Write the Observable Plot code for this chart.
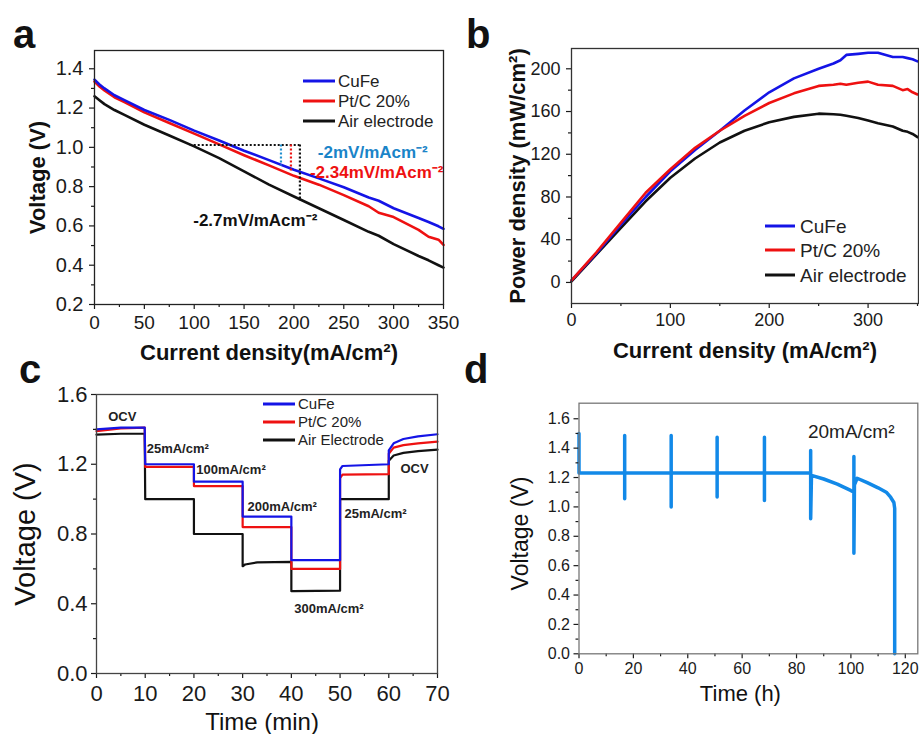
<!DOCTYPE html>
<html><head><meta charset="utf-8">
<script src="https://cdn.jsdelivr.net/npm/d3@7"></script>
<script src="https://cdn.jsdelivr.net/npm/@observablehq/plot@0.6"></script>
<style>
body{margin:0;background:#fff;}
#page{position:relative;width:919px;height:734px;overflow:hidden;background:#fff;font-family:"Liberation Sans",Arial,sans-serif;}
.panel{position:absolute;}
#overlay{position:absolute;left:0;top:0;pointer-events:none;}
</style></head><body><div id="page"></div>
<script>
// ---------- DATA ----------
const seriesNames = ["CuFe", "Pt/C 20%", "Air electrode"];
const seriesNamesC = ["CuFe", "Pt/C 20%", "Air Electrode"];
const seriesColors = ["#1414e6", "#ee1111", "#111111"];

// Panel a: polarization curves
const aCurrent = [0,5,10,20,30,50,75,100,125,150,175,200,225,250,275,285,300,325,335,345,350];
const aCuFe  = [1.345,1.32,1.30,1.265,1.24,1.19,1.14,1.085,1.035,0.983,0.935,0.886,0.842,0.797,0.745,0.728,0.69,0.64,0.62,0.598,0.585];
const aPtC   = [1.335,1.31,1.29,1.255,1.23,1.178,1.124,1.07,1.015,0.96,0.908,0.855,0.81,0.757,0.70,0.667,0.645,0.58,0.545,0.53,0.503];
const aAir   = [1.26,1.24,1.22,1.19,1.165,1.115,1.06,1.005,0.945,0.878,0.81,0.75,0.69,0.63,0.57,0.55,0.507,0.447,0.425,0.40,0.388];
// slope annotation
const slopeH = [{x1: 96, x2: 206, v: 1.012}];
const slopeV = [
  {x: 206, v1: 1.012, v2: 0.725, c: "#111111"},
  {x: 187, v1: 1.012, v2: 0.905, c: "#1f8fd0"},
  {x: 197, v1: 1.012, v2: 0.875, c: "#ee1111"}
];
const slopeLabels = [
  {x: 224, v: 0.974, t: "-2mV/mAcm⁻²", c: "#1a84c8"},
  {x: 216, v: 0.872, t: "-2.34mV/mAcm⁻²", c: "#ee1111"},
  {x: 99,  v: 0.627, t: "-2.7mV/mAcm⁻²", c: "#111111"}
];

// Panel b: power density
const bCurrent = [0,25,50,75,100,125,150,175,200,225,250,265,272,278,290,300,310,325,335,340,345,350];
const bCuFe = [2,27,54,80,104,124,142,161,178,191,200,205,208,213,214,215,215,211,211,210,209,207];
const bPtC  = [2,28,56,84,106,126,142,156,168,177,184,185,186,185,187,188,185,184,180,181,178,176];
const bAir  = [1,26,51,76,98,116,131,142,150,155,158,157.5,157,156,154,151.5,149,146,142,141,139,136];

// Panel c: step test
const cTime = [0,5,9.9,10,10.5,20,20,20.5,30,30,30.5,33,40,40,40.5,50,50,50.5,60,60,61,63,66,70];
const cCuFe = [1.40,1.41,1.41,1.20,1.20,1.20,1.10,1.10,1.10,0.90,0.90,0.90,0.90,0.65,0.65,0.65,1.17,1.19,1.20,1.28,1.32,1.345,1.36,1.372];
const cPtC  = [1.39,1.405,1.41,1.185,1.185,1.185,1.075,1.075,1.075,0.84,0.84,0.84,0.84,0.60,0.60,0.60,1.12,1.14,1.143,1.26,1.295,1.31,1.32,1.33];
const cAir  = [1.37,1.375,1.375,1.0,1.0,1.0,0.80,0.80,0.80,0.615,0.625,0.637,0.64,0.472,0.472,0.475,1.0,1.0,1.0,1.22,1.25,1.265,1.275,1.284];
const cLabels = [
  {t: 2.4, v: 1.47, s: "OCV"},
  {t: 10.3, v: 1.29, s: "25mA/cm²"},
  {t: 20.5, v: 1.166, s: "100mA/cm²"},
  {t: 31.0, v: 0.954, s: "200mA/cm²"},
  {t: 40.6, v: 0.369, s: "300mA/cm²"},
  {t: 50.9, v: 0.914, s: "25mA/cm²"},
  {t: 62.4, v: 1.175, s: "OCV"}
];

// Panel d: durability
const dTime = [0,0,0.3,16.8,16.8,16.8,16.8,33.9,33.9,33.9,33.9,50.8,50.8,50.8,50.8,68.2,68.2,68.2,68.2,85.2,85.2,85.2,85.5,90,95,99.9,101.1,101.1,101.1,101.3,102.3,106,110,113,114.6,115.8,116.1,116.1];
const dVolt = [1.50,1.23,1.23,1.23,1.486,1.055,1.23,1.23,1.486,0.999,1.23,1.23,1.475,1.067,1.23,1.23,1.475,1.044,1.23,1.23,1.384,0.919,1.215,1.19,1.155,1.112,1.10,1.343,0.685,1.15,1.195,1.165,1.13,1.10,1.066,1.03,0.99,0.0];
const dLabel = [{t: 84.2, v: 1.508, s: "20mA/cm²"}];

// tick values
const aXTicks = [0,50,100,150,200,250,300,350], aXMinor = [25,75,125,175,225,275,325];
const aYTicks = [0.2,0.4,0.6,0.8,1.0,1.2,1.4], aYMinor = [0.3,0.5,0.7,0.9,1.1,1.3];
const bXTicks = [0,100,200,300], bXMinor = [50,150,250,350];
const bYTicks = [0,40,80,120,160,200], bYMinor = [20,60,100,140,180];
const cXTicks = [0,10,20,30,40,50,60,70], cXMinor = [5,15,25,35,45,55,65];
const cYTicks = [0,0.4,0.8,1.2,1.6], cYMinor = [0.2,0.6,1.0,1.4];
const dXTicks = [0,20,40,60,80,100,120], dXMinor = [10,30,50,70,90,110];
const dYTicks = [0,0.2,0.4,0.6,0.8,1.0,1.2,1.4,1.6], dYMinor = [0.1,0.3,0.5,0.7,0.9,1.1,1.3,1.5];

// ---------- HELPERS ----------
const FONT = '"Liberation Sans", Arial, Helvetica, sans-serif';
const f1 = d3.format(".1f");
function rows(xs, ys) { return xs.map((x, i) => ({x, y: ys[i]})); }
function axes(o) {
  return [
    Plot.axisX(o.xT, {tickSize: 5, tickPadding: o.xPad, fontSize: o.fs, tickFormat: o.xFmt || (d => String(d)), label: null, color: "#1a1a1a", strokeWidth: 1.2}),
    Plot.axisX(o.xM, {tickSize: 3, tickFormat: () => "", label: null, color: "#1a1a1a", strokeWidth: 1.2}),
    Plot.axisY(o.yT, {tickSize: 5, tickPadding: o.yPad, fontSize: o.yfs || o.fs, tickFormat: o.yFmt || (d => String(d)), label: null, color: "#1a1a1a", strokeWidth: 1.2}),
    Plot.axisY(o.yM, {tickSize: 3, tickFormat: () => "", label: null, color: "#1a1a1a", strokeWidth: 1.2}),
    Plot.frame({stroke: o.frame || "#333", strokeWidth: 1.3}),
    Plot.text([o.xLabel], {text: d => d, frameAnchor: "bottom", textAnchor: "middle", lineAnchor: "middle", dy: o.xLdy, dx: o.xLdx || 0, fontSize: o.xLfs, fontWeight: o.bold ? "bold" : "normal", fill: "#111"}),
    Plot.text([o.yLabel], {text: d => d, frameAnchor: "left", textAnchor: "middle", lineAnchor: "middle", dx: o.yLdx, dy: o.yLdy || 0, rotate: -90, fontSize: o.yLfs, fontWeight: o.bold ? "bold" : "normal", fill: "#111"})
  ];
}
function place(el, left, top) {
  const div = document.createElement("div");
  div.className = "panel";
  div.style.left = left + "px";
  div.style.top = top + "px";
  div.appendChild(el);
  document.getElementById("page").appendChild(div);
}
const style = {fontFamily: FONT, background: "transparent", overflow: "visible", color: "#111"};

// ---------- PANEL A ----------
const aLines = [aAir, aPtC, aCuFe];
const aColors = [seriesColors[2], seriesColors[1], seriesColors[0]];
const plotA = Plot.plot({
  width: 460, height: 360, marginLeft: 94, marginRight: 17, marginTop: 50, marginBottom: 56,
  x: {domain: [0, 350]}, y: {domain: [0.2, 1.493]}, style,
  marks: [
    ...aLines.map((s, k) => Plot.line(rows(aCurrent, s), {x: "x", y: "y", stroke: aColors[k], strokeWidth: 2.6})),
    Plot.ruleY(slopeH, {y: "v", x1: "x1", x2: "x2", stroke: "#111", strokeWidth: 2.2, strokeDasharray: "2,2"}),
    Plot.ruleX(slopeV, {x: "x", y1: "v1", y2: "v2", stroke: "c", strokeWidth: 2.2, strokeDasharray: "2,2"}),
    Plot.text(slopeLabels, {x: "x", y: "v", text: "t", fill: "c", textAnchor: "start", fontSize: 17, fontWeight: "bold"}),
    ...axes({xT: aXTicks, xM: aXMinor, yT: aYTicks, yM: aYMinor, fs: 19, yfs: 20, xPad: 6, yPad: 6, yFmt: f1,
      xLabel: "Current density(mA/cm²)", xLdy: 48, xLfs: 22, yLabel: "Voltage (V)", yLdx: -57, yLfs: 22, bold: true, frame: "#222"})
  ]
});
place(plotA, 0, 0);

// ---------- PANEL B ----------
const bLines = [bAir, bCuFe, bPtC];
const bColors = [seriesColors[2], seriesColors[0], seriesColors[1]];
const plotB = Plot.plot({
  width: 459, height: 360, marginLeft: 111, marginRight: 1, marginTop: 48, marginBottom: 57,
  x: {domain: [0, 351]}, y: {domain: [-19.7, 219]}, style,
  marks: [
    ...bLines.map((s, k) => Plot.line(rows(bCurrent, s), {x: "x", y: "y", stroke: bColors[k], strokeWidth: 2.6})),
    ...axes({xT: bXTicks, xM: bXMinor, yT: bYTicks, yM: bYMinor, fs: 18, xPad: 5, yPad: 6,
      xLabel: "Current density (mA/cm²)", xLdy: 47, xLfs: 22, yLabel: "Power density (mW/cm²)", yLdx: -54, yLfs: 22, bold: true, frame: "#333"})
  ]
});
place(plotB, 460, 0);

// ---------- PANEL C ----------
const cLines = [cAir, cPtC, cCuFe];
const cColors = [seriesColors[2], seriesColors[1], seriesColors[0]];
const plotC = Plot.plot({
  width: 460, height: 374, marginLeft: 96, marginRight: 23, marginTop: 34, marginBottom: 61,
  x: {domain: [0, 70]}, y: {domain: [0, 1.6]}, style,
  marks: [
    ...cLines.map((s, k) => Plot.line(rows(cTime, s), {x: "x", y: "y", stroke: cColors[k], strokeWidth: 2.2})),
    Plot.text(cLabels, {x: "t", y: "v", text: "s", textAnchor: "start", fontSize: 13, fontWeight: "bold", fill: "#222"}),
    ...axes({xT: cXTicks, xM: cXMinor, yT: cYTicks, yM: cYMinor, fs: 22, xPad: 7, yPad: 4, yFmt: f1,
      xLabel: "Time (min)", xLdy: 48.5, xLdx: -5, xLfs: 24, yLabel: "Voltage (V)", yLdx: -71, yLfs: 29, bold: false, frame: "#444"})
  ]
});
place(plotC, 0, 360);

// ---------- PANEL D ----------
const plotD = Plot.plot({
  width: 459, height: 374, marginLeft: 118.5, marginRight: 1.7, marginTop: 42.7, marginBottom: 80.7,
  x: {domain: [0, 124.6]}, y: {domain: [0, 1.706]}, style,
  marks: [
    Plot.line(rows(dTime, dVolt), {x: "x", y: "y", stroke: "#1289e8", strokeWidth: 3.5, strokeLinejoin: "round"}),
    Plot.text(dLabel, {x: "t", y: "v", text: "s", textAnchor: "start", fontSize: 19, fill: "#222"}),
    ...axes({xT: dXTicks, xM: dXMinor, yT: dYTicks, yM: dYMinor, fs: 16, xPad: 3.5, yPad: 4, yFmt: f1,
      xLabel: "Time (h)", xLdy: 40, xLdx: -8, xLfs: 22, yLabel: "Voltage (V)", yLdx: -58.5, yLdy: 5, yLfs: 23, bold: false, frame: "#777"})
  ]
});
place(plotD, 460, 360);

// ---------- OVERLAY: panel letters & legends ----------
const ov = d3.select("#page").append("svg").attr("id", "overlay").attr("width", 919).attr("height", 734)
  .style("font-family", FONT);
const letters = [["a", 13, 48], ["b", 466, 48], ["c", 19, 383], ["d", 464, 383]];
ov.selectAll("text.letter").data(letters).join("text").attr("class", "letter")
  .attr("x", d => d[1]).attr("y", d => d[2]).attr("font-size", 40).attr("font-weight", "bold").attr("fill", "#111").text(d => d[0]);

function legend(x0, x1, tx, ys, names, fs) {
  const g = ov.append("g");
  names.forEach((n, i) => {
    g.append("line").attr("x1", x0).attr("x2", x1).attr("y1", ys[i]).attr("y2", ys[i])
      .attr("stroke", seriesColors[i]).attr("stroke-width", 3);
    g.append("text").attr("x", tx).attr("y", ys[i]).attr("dy", "0.35em").attr("font-size", fs).attr("fill", "#222").text(n);
  });
}
legend(303, 335, 338, [81, 101, 121], seriesNames, 17);
legend(765, 795, 800, [226, 250, 275], seriesNames, 19);
legend(263, 295, 298, [404, 422, 440], seriesNamesC, 15);
</script></body></html>
